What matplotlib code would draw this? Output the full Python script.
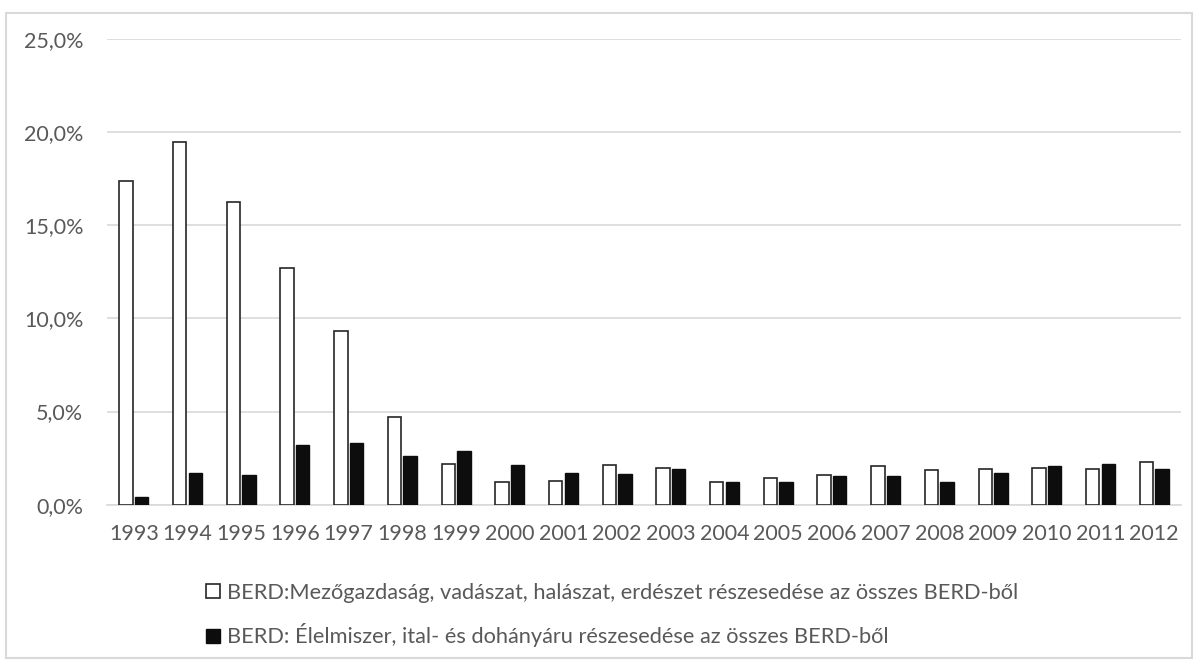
import numpy as np
import matplotlib.pyplot as plt
from matplotlib.patches import Rectangle
from matplotlib.ticker import FuncFormatter

plt.rcParams['font.family'] = ['Lato', 'DejaVu Sans']

years = [str(y) for y in range(1993, 2013)]
agri = [17.4, 19.45, 16.25, 12.7, 9.3, 4.7, 2.18, 1.21, 1.29, 2.11,
        1.98, 1.21, 1.43, 1.57, 2.05, 1.84, 1.91, 1.98, 1.91, 2.30]
food = [0.40, 1.71, 1.57, 3.21, 3.29, 2.61, 2.88, 2.13, 1.71, 1.64,
        1.93, 1.23, 1.23, 1.52, 1.52, 1.23, 1.71, 2.05, 2.20, 1.93]
labels = ["BERD:Mezőgazdaság, vadászat, halászat, erdészet részesedése az összes BERD-ből",
          "BERD: Élelmiszer, ital- és dohányáru részesedése az összes BERD-ből"]

txt = '#595959'
grid_col = '#d9d9d9'

fig = plt.figure(figsize=(11.98, 6.61), dpi=100)
ax = fig.add_axes([0.0893, 0.2365, 0.8965, 0.7045])

x = np.arange(len(years))
w = 0.25
b1 = ax.bar(x - 0.145, np.array(agri) / 100, w, color='white', edgecolor='#262626',
            linewidth=1.2, label=labels[0], zorder=3)
b2 = ax.bar(x + 0.145, np.array(food) / 100, w, color='#0d0d0d', edgecolor='#0d0d0d',
            linewidth=1.0, label=labels[1], zorder=3)

ax.set_xlim(-0.5, len(years) - 0.5)
ax.set_ylim(0, 0.25)
ax.set_yticks(np.arange(0, 0.251, 0.05))
ax.yaxis.set_major_formatter(FuncFormatter(lambda v, p: f"{v*100:.1f}%".replace('.', ',')))
ax.set_xticks(x)
ax.set_xticklabels(years)
ax.tick_params(length=0, labelsize=15.5, colors=txt)
ax.tick_params(axis='y', pad=17)
ax.tick_params(axis='x', pad=14)
ax.grid(axis='y', color=grid_col, linewidth=1.2, zorder=0)
for s in ['top', 'right', 'left']:
    ax.spines[s].set_visible(False)
ax.spines['bottom'].set_color(grid_col)
ax.spines['bottom'].set_linewidth(1.2)

fig.legend(handles=[b1, b2], loc='upper left', bbox_to_anchor=(0.163, 0.135),
           frameon=False, fontsize=15.7, labelcolor=txt, handlelength=0.62,
           handleheight=0.62, handletextpad=0.35, labelspacing=0.95, borderpad=0)

# chart area border
fig.patches.append(Rectangle((0.005, 0.005), 0.99, 0.975, transform=fig.transFigure,
                             fill=False, edgecolor='#d9d9d9', linewidth=1.5))

fig.savefig('out.png', dpi=100)
